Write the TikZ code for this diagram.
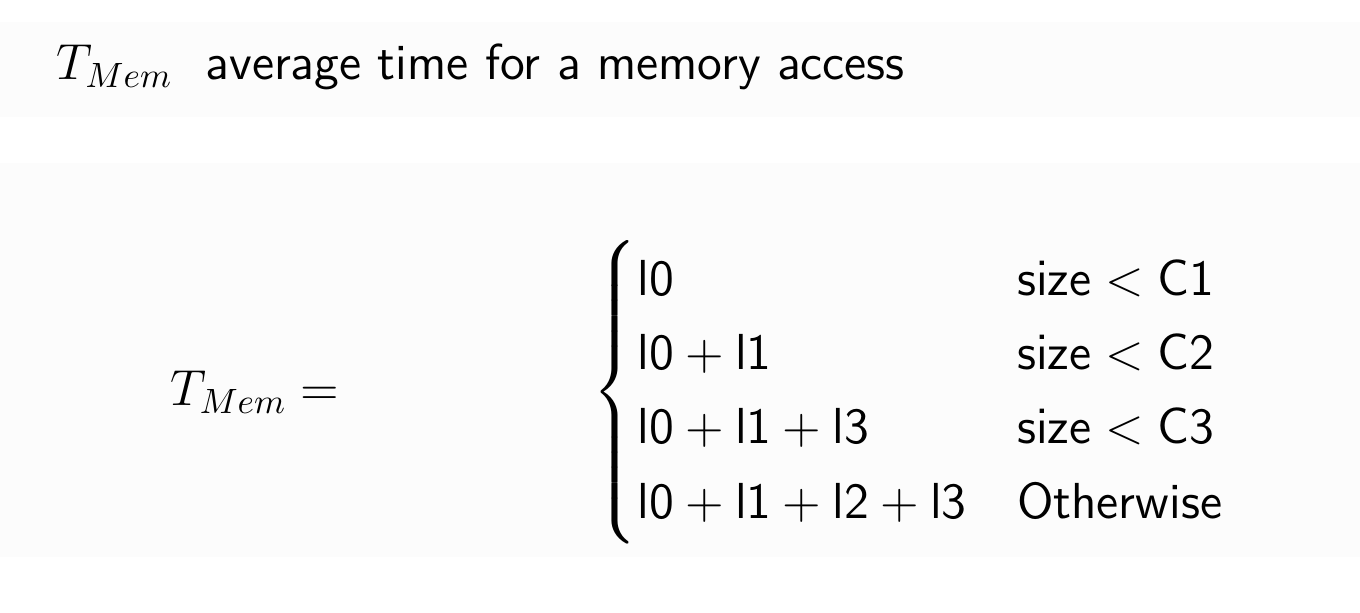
\documentclass[tikz,border=0pt]{standalone}
\usepackage{amsmath, amssymb}
\usetikzlibrary{positioning}

\tikzset{
  band/.style={fill=black!1.2, draw=none},
  plain/.style={inner sep=0pt, font=\fontsize{14.4}{17.6}\selectfont}
}

\begin{document}
\begin{tikzpicture}
          % Fix the page size first (1 px of the target = 0.01cm)
          \useasboundingbox (0,0) rectangle (13.6,6.12);

          % The two light background bands
          \fill [band] (0,4.95) rectangle (13.6,5.90);
          \fill [band] (0,0.55) rectangle (13.6,4.49);

          % Heading line
          \node (heading) [plain, anchor=base west] at (0.56,5.32) {$T_{Mem}$\ \ \textsf{average time for a memory access}};

          % Left hand side of the definition
          \node (lhs) [plain, anchor=west] at (1.70,2.20) {$T_{Mem} =$};

          % The cases, placed to the right of the left hand side
          \node (cases) [plain, right=2.52cm of lhs.east, anchor=west] {$\begin{cases}
              \mathsf{l0} & \mathsf{size} < \mathsf{C1}\\
              \mathsf{l0} + \mathsf{l1} & \mathsf{size} < \mathsf{C2}\\
              \mathsf{l0} + \mathsf{l1} + \mathsf{l3} & \mathsf{size} < \mathsf{C3}\\
              \mathsf{l0} + \mathsf{l1} + \mathsf{l2} + \mathsf{l3} & \textsf{Otherwise}
            \end{cases}$};

        \end{tikzpicture}
\end{document}
